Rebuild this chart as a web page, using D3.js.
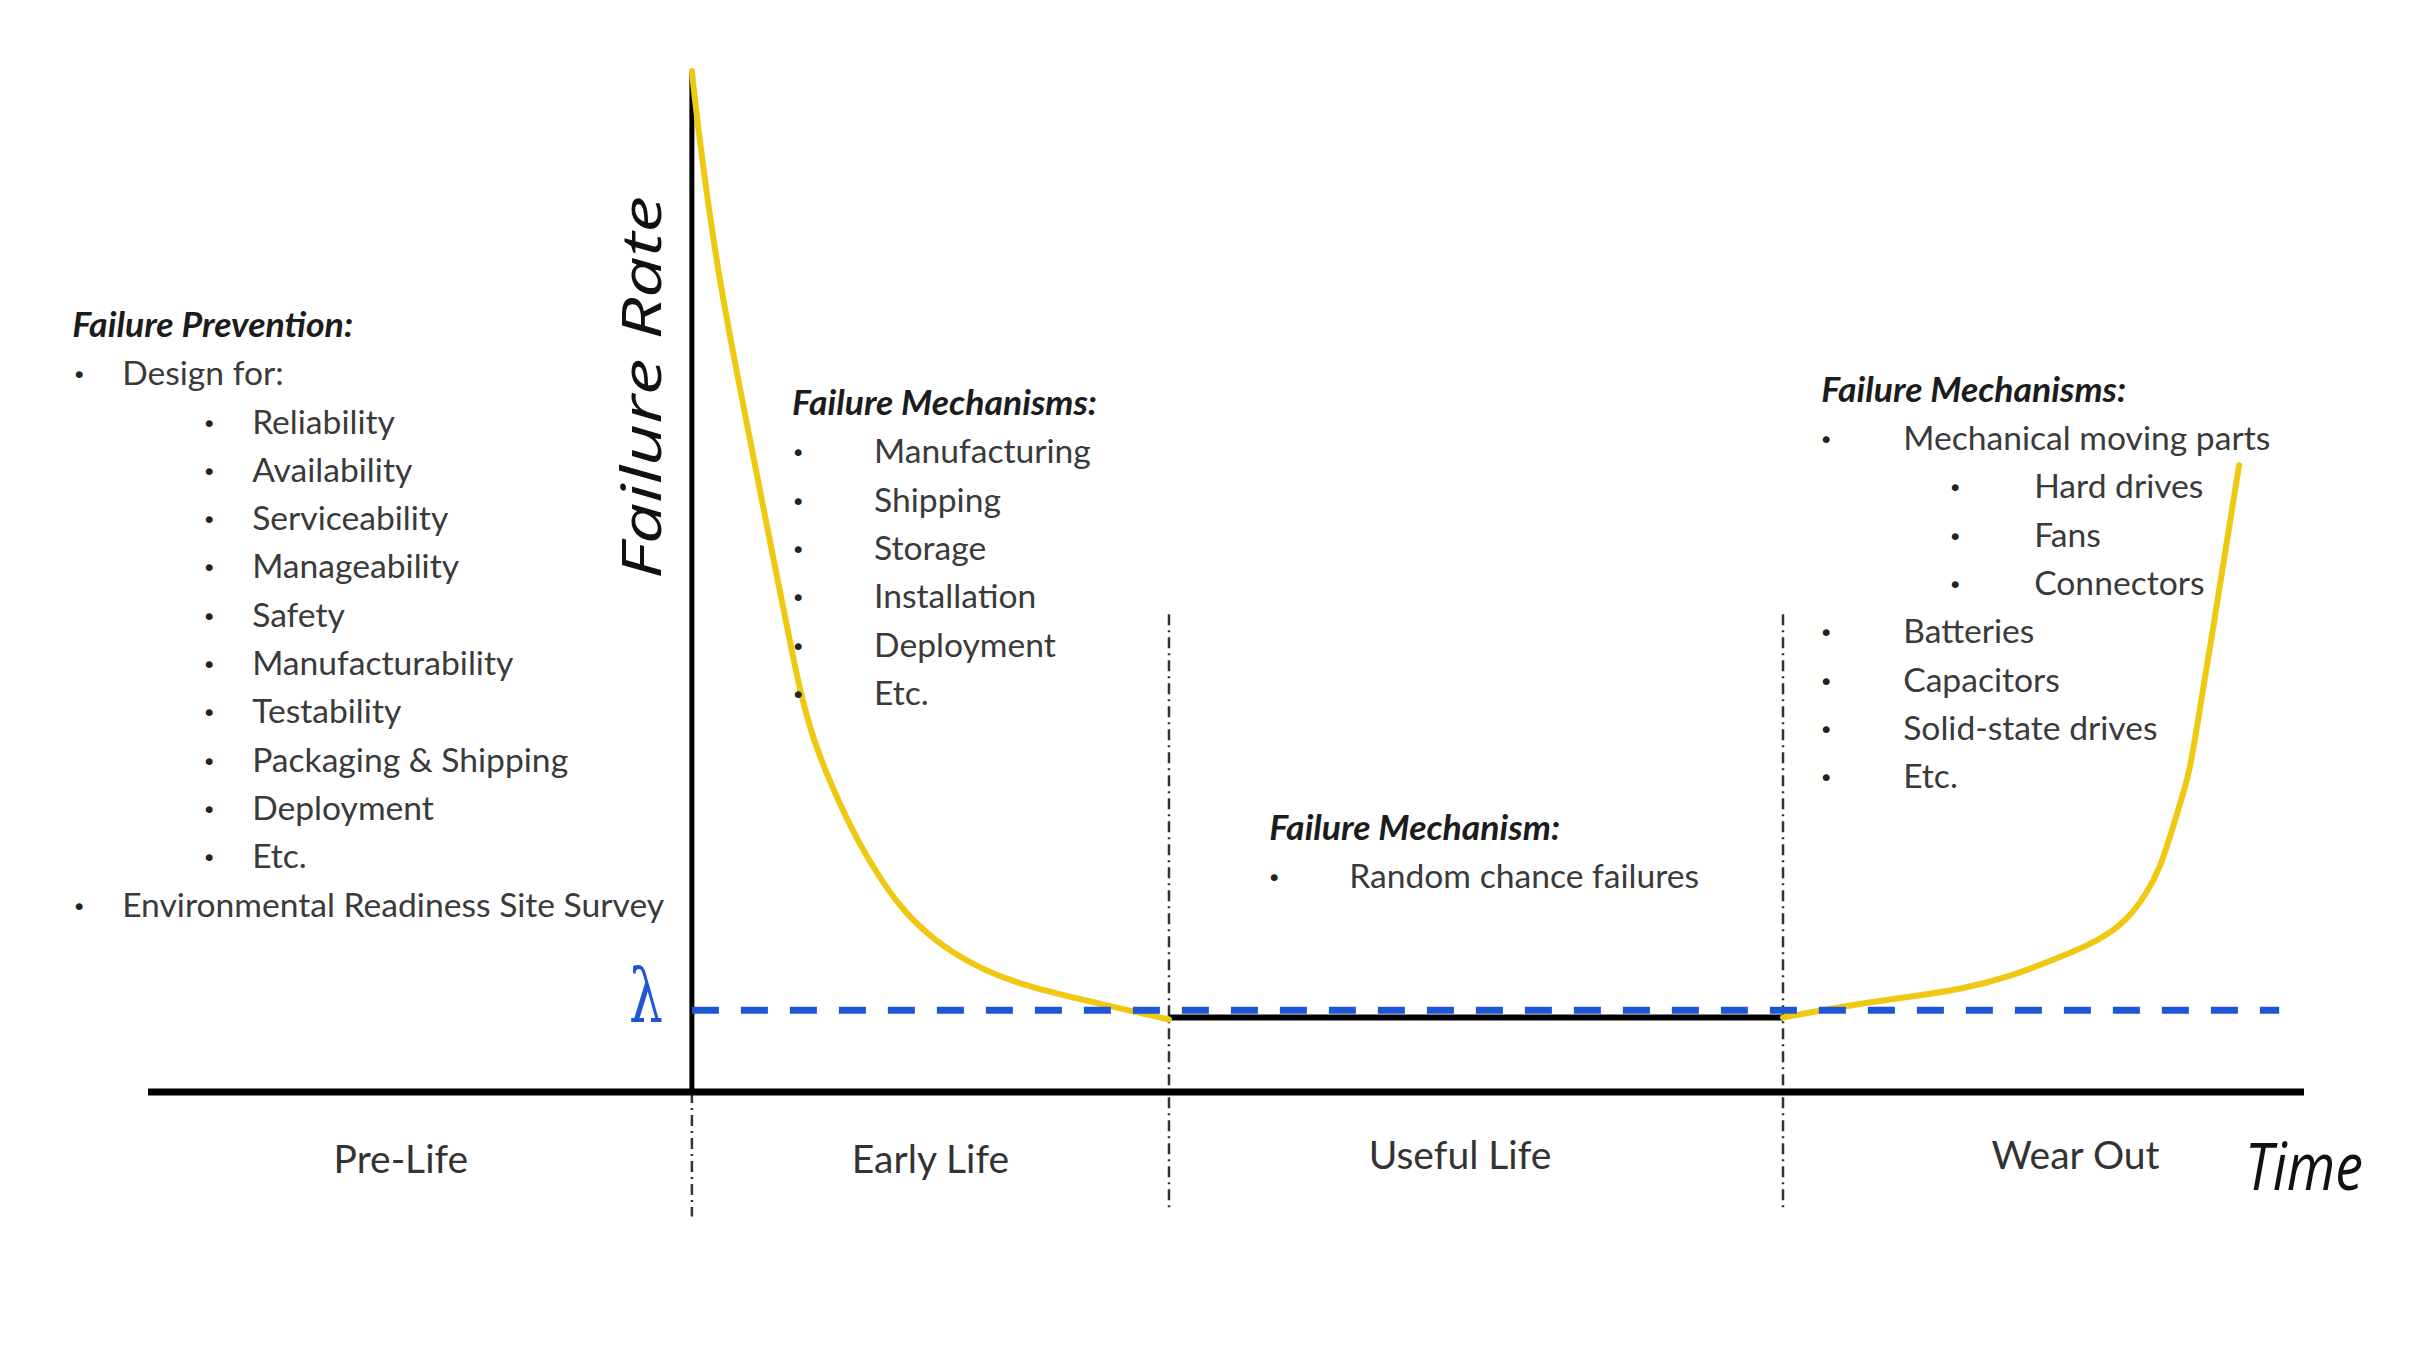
<!DOCTYPE html>
<html>
<head>
<meta charset="utf-8">
<script src="https://cdn.jsdelivr.net/npm/d3@7"></script>
<style>
  body { margin: 0; background: #fff; }
  svg { display: block; }
</style>
</head>
<body>
<div id="chart"></div>
<script>
// bathtub curve (time in "early life" units, rate 0..10)
const phases = ['Pre-Life', 'Early Life', 'Useful Life', 'Wear Out'];
const phaseBounds = [-1.14, 0, 1, 2.287, 3.379];
const phaseLabelT = [-0.61, 0.5, 1.61, 2.9];

const earlyT    = [0, 0.010, 0.052, 0.115, 0.178, 0.205, 0.226, 0.254, 0.296, 0.346, 0.388, 0.436, 0.505, 0.597, 0.702, 0.841, 1.0];
const earlyRate = [10, 9.55, 8.05, 6.55, 5.05, 4.43, 3.94, 3.45, 2.96, 2.47, 2.14, 1.81, 1.49, 1.22, 1.03, 0.88, 0.71];

const usefulT    = [1.0, 2.287];
const usefulRate = [0.73, 0.73];

const wearT    = [2.287, 2.40, 2.53, 2.658, 2.763, 2.868, 2.952, 3.008, 3.050, 3.078, 3.105, 3.126, 3.140, 3.161, 3.193, 3.218, 3.243];
const wearRate = [0.73, 0.83, 0.92, 1.00, 1.13, 1.32, 1.49, 1.68, 1.95, 2.20, 2.60, 2.93, 3.15, 3.76, 4.67, 5.41, 6.14];

const lambdaRate = 0.8;
const lambdaEndT = 3.327;
const rateMax = 10;

const preventionItems = [
  ['Design for:', 0], ['Reliability', 1], ['Availability', 1], ['Serviceability', 1],
  ['Manageability', 1], ['Safety', 1], ['Manufacturability', 1], ['Testability', 1],
  ['Packaging & Shipping', 1], ['Deployment', 1], ['Etc.', 1],
  ['Environmental Readiness Site Survey', 0]
];
const earlyItems = [['Manufacturing', 0], ['Shipping', 0], ['Storage', 0], ['Installation', 0], ['Deployment', 0], ['Etc.', 0]];
const usefulItems = [['Random chance failures', 0]];
const wearItems = [
  ['Mechanical moving parts', 0], ['Hard drives', 1], ['Fans', 1], ['Connectors', 1],
  ['Batteries', 0], ['Capacitors', 0], ['Solid-state drives', 0], ['Etc.', 0]
];

const width = 2428, height = 1346;

const svg = d3.select('#chart').append('svg')
  .attr('width', width)
  .attr('height', height);

const x = d3.scaleLinear().domain([phaseBounds[0], phaseBounds[4]]).range([148, 2304]);
const y = d3.scaleLinear().domain([0, rateMax]).range([1092, 71]);

// b-spline smooths out reading noise in the points
const line = d3.line()
  .x(d => x(d[0]))
  .y(d => y(d[1]))
  .curve(d3.curveBasis);

// phase dividers (dash-dot)
svg.append('g')
  .selectAll('line')
  .data(phaseBounds.slice(1, 4))
  .enter().append('line')
    .attr('x1', d => x(d))
    .attr('x2', d => x(d))
    .attr('y1', (d, i) => i === 0 ? y(0) : y(4.68))
    .attr('y2', (d, i) => i === 0 ? y(-1.22) : y(-1.13))
    .attr('stroke', '#333')
    .attr('stroke-width', 2.5)
    .attr('stroke-dasharray', '11,5,2,5');

// axes
svg.append('line')
  .attr('x1', x(phaseBounds[0])).attr('x2', x(phaseBounds[4]))
  .attr('y1', y(0)).attr('y2', y(0))
  .attr('stroke', '#000').attr('stroke-width', 7);
svg.append('line')
  .attr('x1', x(0)).attr('x2', x(0))
  .attr('y1', y(0)).attr('y2', y(rateMax))
  .attr('stroke', '#000').attr('stroke-width', 5);

// useful life flat rate
svg.append('path')
  .attr('d', d3.line().x(d => x(d[0])).y(d => y(d[1]))(d3.zip(usefulT, usefulRate)))
  .attr('fill', 'none')
  .attr('stroke', '#000')
  .attr('stroke-width', 6);

// yellow failure curve
[d3.zip(earlyT, earlyRate), d3.zip(wearT, wearRate)].forEach(pts => {
  svg.append('path')
    .attr('d', line(pts))
    .attr('fill', 'none')
    .attr('stroke', '#efc812')
    .attr('stroke-width', 6)
    .attr('stroke-linecap', 'round');
});

// lambda line
svg.append('line')
  .attr('x1', x(0)).attr('x2', x(lambdaEndT))
  .attr('y1', y(lambdaRate)).attr('y2', y(lambdaRate))
  .attr('stroke', '#1d57d6')
  .attr('stroke-width', 7)
  .attr('stroke-dasharray', '27,22');

svg.append('text')
  .attr('x', x(0) - 46).attr('y', y(lambdaRate) + 12)
  .attr('text-anchor', 'middle')
  .attr('font-family', 'DejaVu Serif')
  .attr('font-size', 74)
  .attr('textLength', 34)
  .attr('lengthAdjust', 'spacingAndGlyphs')
  .attr('fill', '#1d57d6')
  .text('λ');

// axis titles
svg.append('text')
  .attr('transform', `translate(${x(0) - 31},${y(6.9)}) rotate(-90)`)
  .attr('text-anchor', 'middle')
  .attr('font-family', 'Open Sans')
  .attr('font-style', 'italic')
  .attr('font-size', 54)
  .attr('textLength', 383)
  .attr('lengthAdjust', 'spacingAndGlyphs')
  .attr('fill', '#111')
  .text('Failure Rate');

svg.append('text')
  .attr('x', 2304).attr('y', 1190)
  .attr('text-anchor', 'middle')
  .attr('font-family', 'Open Sans')
  .attr('font-style', 'italic')
  .attr('font-size', 66)
  .attr('textLength', 118)
  .attr('lengthAdjust', 'spacingAndGlyphs')
  .attr('fill', '#111')
  .text('Time');

// phase names
svg.append('g')
  .selectAll('text')
  .data(phases)
  .enter().append('text')
    .attr('x', (d, i) => x(phaseLabelT[i]))
    .attr('y', (d, i) => i < 2 ? 1173 : 1169)
    .attr('text-anchor', 'middle')
    .attr('font-family', 'Lato')
    .attr('font-size', 39)
    .attr('fill', '#333')
    .text(d => d);

// work out a body font size that matches the picture's text widths
const probe = svg.append('text').attr('font-family', 'Lato').attr('font-size', 100).text('Random chance failures');
const bodySize = 350 / probe.node().getComputedTextLength() * 100;
probe.remove();

function block(title, titleWidth, items, t, r, indents) {
  const g = svg.append('g').attr('transform', `translate(${x(t)},${y(r)})`);
  g.append('text')
    .attr('font-family', 'Lato')
    .attr('font-weight', 'bold')
    .attr('font-style', 'italic')
    .attr('font-size', bodySize)
    .attr('textLength', titleWidth)
    .attr('lengthAdjust', 'spacingAndGlyphs')
    .attr('fill', '#1c1c1c')
    .text(title);
  const rows = g.selectAll('g.row')
    .data(items)
    .enter().append('g')
      .attr('class', 'row')
      .attr('transform', (d, i) => `translate(0,${(i + 1) * 48.3})`);
  rows.append('text')
    .attr('x', d => indents[d[1] * 2])
    .attr('y', -2)
    .attr('text-anchor', 'middle')
    .attr('font-family', 'DejaVu Sans')
    .attr('font-size', bodySize * 0.7)
    .attr('fill', '#222')
    .text('•');
  rows.append('text')
    .attr('x', d => indents[d[1] * 2 + 1])
    .attr('font-family', 'Lato')
    .attr('font-size', bodySize)
    .attr('fill', '#3a3a3a')
    .text(d => d[0]);
}

block('Failure Prevention:', 281, preventionItems, -1.299, 7.395, [7, 50, 137, 180]);
block('Failure Mechanisms:', 305, earlyItems, 0.21, 6.63, [6, 82]);
block('Failure Mechanism:', 291, usefulItems, 1.21, 2.47, [5, 80]);
block('Failure Mechanisms:', 305, wearItems, 2.367, 6.76, [5, 82, 134, 213]);
</script>
</body>
</html>
